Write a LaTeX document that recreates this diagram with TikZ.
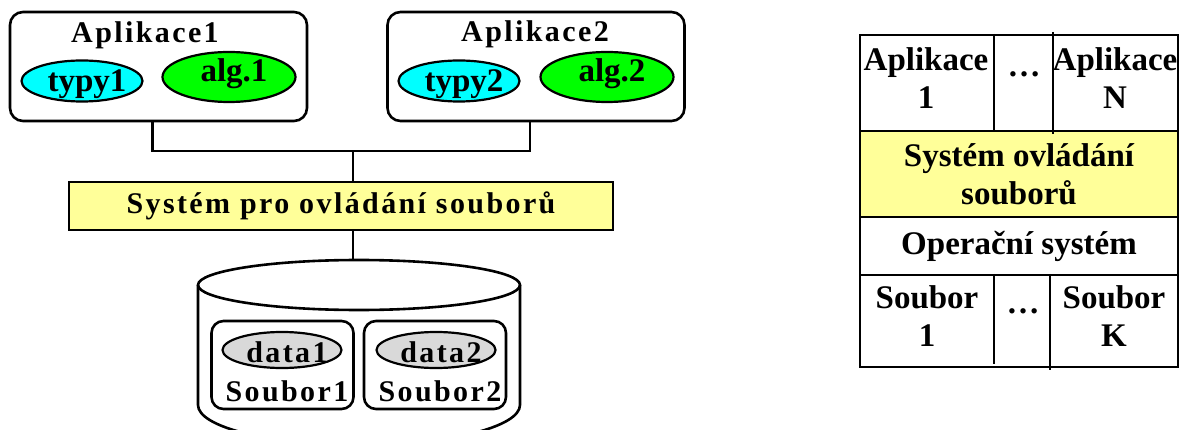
\documentclass[tikz,border=0pt]{standalone}
\usepackage{fontspec}
\setmainfont{Liberation Serif}
\newfontfamily\widefont[LetterSpace=8]{Liberation Serif}
\usetikzlibrary{shapes.geometric}
\definecolor{fsyellow}{RGB}{255,255,153}
\definecolor{datagray}{RGB}{217,217,217}
\definecolor{typcyan}{RGB}{0,255,255}
\definecolor{alggreen}{RGB}{0,255,0}
\tikzset{basic/.style={draw,line width=2.6pt,inner sep=0pt}}
\tikzset{appbox/.style={basic,rectangle,rounded corners=13pt,minimum width=297pt,minimum height=109pt}}
\tikzset{filebox/.style={basic,rectangle,rounded corners=12pt,minimum width=142pt,minimum height=88pt}}
\tikzset{oval/.style={basic,ellipse,line width=2.2pt,inner xsep=-12pt,text depth=0pt,execute at begin node={\hspace*{10pt}}}}
\tikzset{typy/.style={oval,fill=typcyan,minimum width=121pt,minimum height=41pt,text height=22pt,font=\bfseries\fontsize{33}{35}\selectfont}}
\tikzset{algo/.style={oval,fill=alggreen,minimum width=133pt,minimum height=50pt,text height=10pt,font=\bfseries\fontsize{33}{35}\selectfont}}
\tikzset{datum/.style={oval,fill=datagray,minimum width=119pt,minimum height=36pt,text height=24pt,font=\widefont\bfseries\fontsize{30}{32}\selectfont}}
\tikzset{title/.style={anchor=base,inner sep=0pt,font=\widefont\bfseries\fontsize{30}{32}\selectfont}}
\tikzset{fsbar/.style={basic,rectangle,fill=fsyellow,minimum width=544pt,minimum height=48pt,text height=16pt,text depth=0pt,font=\widefont\bfseries\fontsize{30}{32}\selectfont}}
\tikzset{row/.style={draw,line width=2.2pt,minimum width=318pt,align=center,inner sep=0pt,font=\bfseries\fontsize{33}{38}\selectfont}}
\tikzset{cell/.style={align=center,inner sep=0pt,font=\bfseries\fontsize{33}{38}\selectfont}}

\begin{document}
\begin{tikzpicture}[x=1pt,y=-1pt]
    \useasboundingbox (0,0) rectangle (1182,430);

    \node[appbox] (app1) at (158.5,66.5) {};
    \node[title] (app1name) at (145,43) {Aplikace1};
    \node[typy] (typy1) at (82,81) {typy1};
    \node[algo] (alg1) at (229,77) {alg.1};

    \node[appbox] (app2) at (536,66.5) {};
    \node[title] (app2name) at (535,42) {Aplikace2};
    \node[typy] (typy2) at (459,81) {typy2};
    \node[algo] (alg2) at (607,77) {alg.2};

    \node[fsbar] (fs) at (341,206) {Systém pro ovládání souborů};
    \coordinate (bus) at (353,151);
    \coordinate (disktop) at (353,260);
        \draw[line width=2.6pt] ([xshift=-6pt]app1.south) |- (bus) -| ([xshift=-6pt]app2.south);
        \draw[line width=2.6pt] (bus) -- (bus |- fs.north);
        \draw[line width=2.6pt] (bus |- fs.south) -- (disktop);

    \draw[line width=2.6pt] (198,285) -- (198,405) arc[start angle=180,end angle=0,x radius=161,y radius=40] -- (520,285);
    \draw[line width=2.6pt] (359,285) ellipse[x radius=161,y radius=25];

    \node[filebox] (file1) at (282.5,365) {};
    \node[datum] (data1) at (282,350) {data1};
    \node[title] (file1name) at (287,401) {Soubor1};
    \node[filebox] (file2) at (435,365) {};
    \node[datum] (data2) at (436,350) {data2};
    \node[title] (file2name) at (440,401) {Soubor2};

    \node[row,minimum height=96pt] (apps) at (1019,83) {};
    \node[row,fill=fsyellow,minimum height=86pt] (fsrow) at (1019,174) {Systém ovládání\\souborů};
    \node[row,minimum height=58pt] (osrow) at (1019,246) {Operační systém};
    \node[row,minimum height=92pt] (files) at (1019,321) {};
        \draw[line width=2.2pt] ([xshift=-25pt]apps.north) -- ([xshift=-25pt]apps.south);
        \draw[line width=2.2pt] ([xshift=34pt,yshift=2pt]apps.north) -- ([xshift=34pt,yshift=-2pt]apps.south);
        \draw[line width=2.2pt] ([xshift=-25pt]files.north) -- ([xshift=-25pt,yshift=4pt]files.south);
        \draw[line width=2.2pt] ([xshift=31pt]files.north) -- ([xshift=31pt,yshift=-2pt]files.south);

    \node[cell] (apl1) at (926,78) {Aplikace\\1};
    \node[cell,anchor=base] (dots1) at (1024,77) {\ldots};
    \node[cell] (aplN) at (1115,78) {Aplikace\\N};
    \node[cell] (soub1) at (927,316) {Soubor\\1};
    \node[cell,anchor=base] (dots2) at (1023,313) {\ldots};
    \node[cell] (soubK) at (1114,316) {Soubor\\K};
\end{tikzpicture}
\end{document}
